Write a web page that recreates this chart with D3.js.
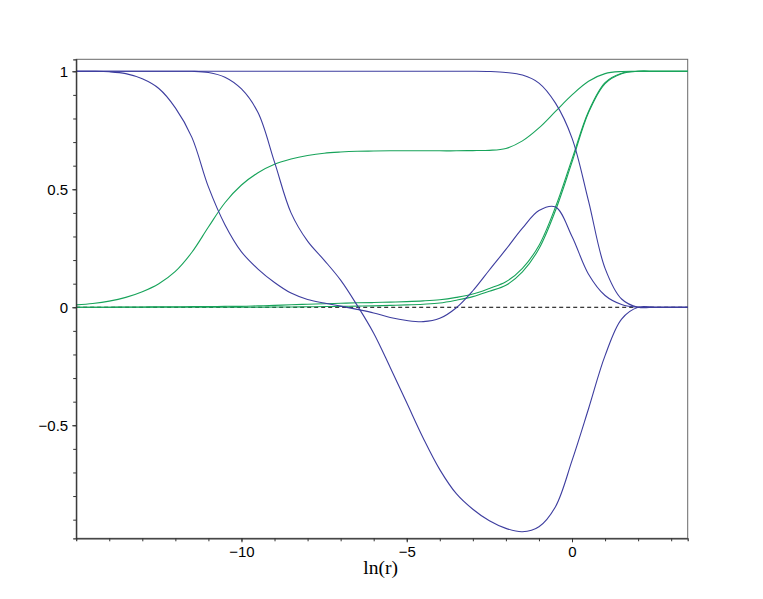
<!DOCTYPE html>
<html>
<head>
<meta charset="utf-8">
<script src="https://cdn.jsdelivr.net/npm/d3@7/dist/d3.min.js"></script>
<style>
  html, body { margin: 0; padding: 0; background: #ffffff; }
  svg { display: block; }
</style>
</head>
<body>
<script>
// ---- data ----
const xs = [-15, -14.5, -14, -13.5, -13, -12.5, -12, -11.5, -11, -10.5, -10, -9.5, -9, -8.5, -8, -7.5, -7, -6.5, -6, -5.5, -5, -4.5, -4, -3.5, -3, -2.5, -2, -1.5, -1, -0.5, 0, 0.5, 1, 1.5, 2, 2.5, 3, 3.5];

const blue1 = [1.0, 1.0, 0.998, 0.99, 0.968, 0.927, 0.845, 0.72, 0.51, 0.35, 0.235, 0.162, 0.105, 0.06, 0.033, 0.018, 0.005, -0.009, -0.024, -0.043, -0.056, -0.061, -0.047, -0.002, 0.07, 0.158, 0.245, 0.335, 0.41, 0.425, 0.3, 0.14, 0.05, 0.012, 0.0, 0.0, 0.0, 0.0];
const blue2 = [1.0, 1.0, 1.0, 1.0, 1.0, 1.0, 1.0, 1.0, 0.995, 0.975, 0.925, 0.825, 0.615, 0.4, 0.28, 0.2, 0.115, 0.008, -0.11, -0.255, -0.405, -0.555, -0.688, -0.79, -0.856, -0.905, -0.937, -0.951, -0.93, -0.845, -0.65, -0.43, -0.205, -0.05, 0.0, 0.0, 0.0, 0.0];
const blue3 = [1.0, 1.0, 1.0, 1.0, 1.0, 1.0, 1.0, 1.0, 1.0, 1.0, 1.0, 1.0, 1.0, 1.0, 1.0, 1.0, 1.0, 1.0, 1.0, 1.0, 1.0, 1.0, 1.0, 1.0, 1.0, 0.999, 0.995, 0.984, 0.95, 0.865, 0.717, 0.45, 0.165, 0.035, 0.0, 0.0, 0.0, 0.0];
const green1 = [0.01, 0.016, 0.026, 0.042, 0.066, 0.1, 0.152, 0.233, 0.34, 0.443, 0.518, 0.57, 0.606, 0.628, 0.643, 0.653, 0.658, 0.661, 0.662, 0.663, 0.663, 0.663, 0.663, 0.663, 0.664, 0.665, 0.673, 0.705, 0.76, 0.83, 0.9, 0.958, 0.99, 0.999, 1.0, 1.0, 1.0, 1.0];
const green2 = [0.0, 0.0, 0.0, 0.0, 0.0, 0.0, 0.0, 0.0, 0.0, 0.0, 0.0, 0.0, 0.001, 0.001, 0.002, 0.003, 0.004, 0.005, 0.006, 0.008, 0.01, 0.013, 0.018, 0.03, 0.045, 0.068, 0.093, 0.15, 0.248, 0.41, 0.615, 0.825, 0.948, 0.99, 1.0, 1.0, 1.0, 1.0];
const green3 = [0.0, 0.0, 0.0, 0.001, 0.001, 0.002, 0.002, 0.003, 0.003, 0.004, 0.004, 0.006, 0.008, 0.011, 0.013, 0.015, 0.017, 0.019, 0.02, 0.022, 0.024, 0.027, 0.032, 0.042, 0.056, 0.08, 0.108, 0.165, 0.262, 0.425, 0.628, 0.83, 0.952, 0.992, 1.0, 1.0, 1.0, 1.0];

const xMajorTicks = [-10, -5, 0];
const xMinorTicks = [-14, -13, -12, -11, -10, -9, -8, -7, -6, -5, -4, -3, -2, -1, 0, 1, 2, 3];
const yMajorTicks = [-0.5, 0, 0.5, 1];
const yMinorTicks = [-0.9, -0.8, -0.7, -0.6, -0.5, -0.4, -0.3, -0.2, -0.1, 0, 0.1, 0.2, 0.3, 0.4, 0.5, 0.6, 0.7, 0.8, 0.9, 1.0];
const xTitle = "ln(r)";

// ---- drawing ----
const W = 763, H = 599;
const svg = d3.select("body").append("svg").attr("width", W).attr("height", H);

const x = d3.scaleLinear().domain([-15, 3.5]).range([76.2, 687.7]);
const y = d3.scaleLinear().domain([-0.979, 1.0508]).range([538.3, 59.3]);

const BLUE = "#3d3d9f", GREEN = "#17a35a";

// frame
svg.append("rect")
  .attr("x", x(-15)).attr("y", y(1.0508))
  .attr("width", x(3.5) - x(-15)).attr("height", y(-0.979) - y(1.0508))
  .attr("fill", "none").attr("stroke", "#6a6a6a").attr("stroke-width", 1);

// dashed zero line
svg.append("line")
  .attr("x1", x(-15)).attr("x2", x(3.5))
  .attr("y1", y(0)).attr("y2", y(0))
  .attr("stroke", "#000").attr("stroke-width", 1)
  .attr("stroke-dasharray", "4,3");

const line = d3.line()
  .x((d, i) => x(xs[i]))
  .y(d => y(d))
  .curve(d3.curveCatmullRom.alpha(0.5));

const series = [
  { v: green2, c: GREEN },
  { v: green3, c: GREEN },
  { v: green1, c: GREEN },
  { v: blue1, c: BLUE },
  { v: blue2, c: BLUE },
  { v: blue3, c: BLUE }
];
svg.append("g").selectAll("path").data(series).join("path")
  .attr("d", d => line(d.v))
  .attr("fill", "none")
  .attr("stroke", d => d.c)
  .attr("stroke-width", 1.1);

// axes
const fmt = d => d < 0 ? "\u2212" + Math.abs(d) : String(d);
const xAxisMinor = d3.axisBottom(x).tickValues(xMinorTicks).tickSize(3).tickFormat("");
const xAxisMajor = d3.axisBottom(x).tickValues(xMajorTicks).tickSize(4).tickFormat(fmt);
const yAxisMinor = d3.axisLeft(y).tickValues(yMinorTicks).tickSize(3).tickFormat("");
const yAxisMajor = d3.axisLeft(y).tickValues(yMajorTicks).tickSize(4).tickFormat(fmt);

function styleAxis(g) {
  g.select(".domain").attr("stroke", "#333").attr("stroke-width", 1.2);
  g.selectAll(".tick line").attr("stroke", "#333");
  g.selectAll(".tick text").attr("fill", "#000")
    .style("font-family", "'Liberation Sans', Arial, sans-serif")
    .style("font-size", "15px");
}

svg.append("g").attr("transform", `translate(0,${y(-0.979)})`).call(xAxisMinor).call(styleAxis);
svg.append("g").attr("transform", `translate(0,${y(-0.979)})`).call(xAxisMajor).call(styleAxis)
  .call(g => g.select(".domain").remove())
  .call(g => g.selectAll(".tick text").attr("y", 8).attr("dy", "0.71em"));
svg.append("g").attr("transform", `translate(${x(-15)},0)`).call(yAxisMinor).call(styleAxis);
svg.append("g").attr("transform", `translate(${x(-15)},0)`).call(yAxisMajor).call(styleAxis)
  .call(g => g.select(".domain").remove())
  .call(g => g.selectAll(".tick text").attr("x", -8).attr("dy", "0.36em"));

// x title
svg.append("text")
  .attr("x", 363.3).attr("y", 573.5)
  .style("font-family", "'Liberation Serif', 'Times New Roman', serif")
  .style("font-size", "19.5px")
  .attr("fill", "#000")
  .text(xTitle);
</script>
</body>
</html>
